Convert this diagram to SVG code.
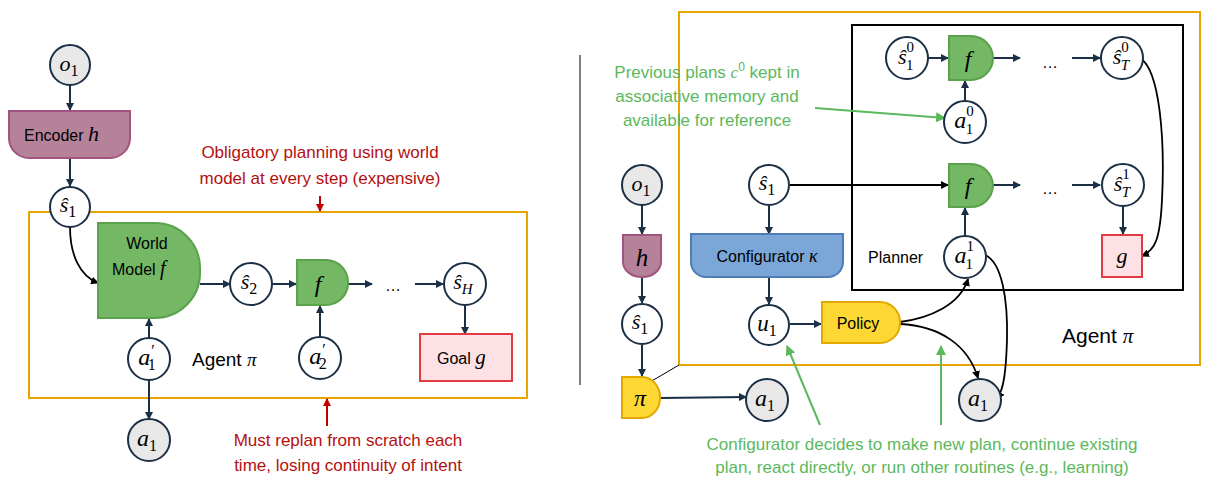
<svg xmlns="http://www.w3.org/2000/svg" width="1213" height="493" viewBox="0 0 1213 493" font-size="16">
<style>
text{font-family:"Liberation Sans",Arial,sans-serif;fill:#000}
.m{font-family:"Liberation Serif","Times New Roman",serif;font-style:italic}
.c{text-anchor:middle}
.n{fill:#fff;stroke:#1b2f45;stroke-width:2}
.g{fill:#e8e8e8;stroke:#1b2f45;stroke-width:2}
.e{fill:none;stroke:#1b2f45;stroke-width:2}
.k{fill:none;stroke:#000;stroke-width:1.8}
.red{fill:#b50f0f}
.grn{fill:#5cb85c}
.wm{fill:#74b866;stroke:#5aa24c;stroke-width:2}
</style>
<defs>
<marker id="a" markerWidth="8" markerHeight="8" refX="7" refY="4" orient="auto" markerUnits="userSpaceOnUse"><path d="M0,0L8,4L0,8z" fill="#1b2f45"/></marker>
<marker id="ak" markerWidth="8" markerHeight="8" refX="7" refY="4" orient="auto" markerUnits="userSpaceOnUse"><path d="M0,0L8,4L0,8z" fill="#000"/></marker>
<marker id="ar" markerWidth="8" markerHeight="8" refX="7" refY="4" orient="auto" markerUnits="userSpaceOnUse"><path d="M0,0L8,4L0,8z" fill="#c00000"/></marker>
<marker id="ag" markerWidth="10" markerHeight="10" refX="9" refY="5" orient="auto" markerUnits="userSpaceOnUse"><path d="M0,0L10,5L0,10z" fill="#5cb85c"/></marker>
</defs>
<rect x="29" y="212" width="498" height="186" fill="none" stroke="#e8a400" stroke-width="2"/>
<line x1="580" y1="55" x2="580" y2="385" stroke="#000" stroke-width="1"/>
<path d="M679,150V12H1200V365H679V131" fill="none" stroke="#e8a400" stroke-width="2"/>
<line x1="679" y1="365" x2="650" y2="382" stroke="#000" stroke-width="1"/>
<rect x="852" y="25" width="331" height="265" fill="none" stroke="#000" stroke-width="2"/>
<g id="connectors">
<line class="e" x1="70" y1="85" x2="70" y2="110" marker-end="url(#a)"/>
<line class="e" x1="70" y1="158" x2="70" y2="186" marker-end="url(#a)"/>
<path class="k" d="M70,227C70,255 80,276 98,283" marker-end="url(#ak)"/>
<line class="e" x1="200" y1="284" x2="230" y2="284" marker-end="url(#a)"/>
<line class="e" x1="272" y1="284" x2="296" y2="284" marker-end="url(#a)"/>
<line class="e" x1="348" y1="284" x2="372" y2="284" marker-end="url(#a)"/>
<line class="e" x1="415" y1="284" x2="443" y2="284" marker-end="url(#a)"/>
<line class="e" x1="465" y1="305" x2="465" y2="334" marker-end="url(#a)"/>
<line class="e" x1="149" y1="338" x2="149" y2="319" marker-end="url(#a)"/>
<line class="e" x1="320" y1="337" x2="320" y2="306" marker-end="url(#a)"/>
<line class="e" x1="149" y1="380" x2="149" y2="419" marker-end="url(#a)"/>
<line x1="320" y1="196" x2="320" y2="211" stroke="#c00000" stroke-width="2" marker-end="url(#ar)"/>
<line x1="327" y1="426" x2="327" y2="399" stroke="#c00000" stroke-width="2" marker-end="url(#ar)"/>
<line class="e" x1="642" y1="205" x2="642" y2="234" marker-end="url(#a)"/>
<line class="e" x1="642" y1="277" x2="642" y2="303" marker-end="url(#a)"/>
<line class="e" x1="642" y1="345" x2="642" y2="376" marker-end="url(#a)"/>
<line class="e" x1="660" y1="398" x2="746" y2="397" marker-end="url(#a)"/>
<line class="k" x1="790" y1="185" x2="948" y2="185" marker-end="url(#ak)"/>
<line class="e" x1="769" y1="206" x2="769" y2="234" marker-end="url(#a)"/>
<line class="e" x1="769" y1="277" x2="769" y2="304" marker-end="url(#a)"/>
<line class="e" x1="790" y1="324" x2="821" y2="324" marker-end="url(#a)"/>
<line class="e" x1="928" y1="58" x2="948" y2="58" marker-end="url(#a)"/>
<line class="e" x1="993" y1="58" x2="1020" y2="58" marker-end="url(#a)"/>
<line class="e" x1="1072" y1="58" x2="1100" y2="58" marker-end="url(#a)"/>
<line class="e" x1="965" y1="101" x2="965" y2="81" marker-end="url(#a)"/>
<line class="e" x1="993" y1="185" x2="1020" y2="185" marker-end="url(#a)"/>
<line class="e" x1="1072" y1="185" x2="1100" y2="185" marker-end="url(#a)"/>
<line class="e" x1="965" y1="236" x2="965" y2="208" marker-end="url(#a)"/>
<line class="e" x1="1123" y1="206" x2="1123" y2="234" marker-end="url(#a)"/>
<path class="k" d="M1140,58C1160,70 1165,140 1162,200C1160,240 1155,250 1142,256" marker-end="url(#ak)"/>
<path class="k" d="M985,255C1002,262 1008,300 1007,340C1006,370 1004,390 997,398" marker-end="url(#ak)"/>
<path class="k" d="M900,322C930,318 960,305 968,279" marker-end="url(#ak)"/>
<path class="k" d="M900,324C940,326 968,345 978,378" marker-end="url(#ak)"/>
<line x1="815" y1="108" x2="945" y2="118" stroke="#5cb85c" stroke-width="2" marker-end="url(#ag)"/>
<line x1="820" y1="425" x2="787" y2="346" stroke="#5cb85c" stroke-width="2" marker-end="url(#ag)"/>
<line x1="941" y1="425" x2="941" y2="346" stroke="#5cb85c" stroke-width="2" marker-end="url(#ag)"/>
</g>
<g id="o1L"><circle class="g" cx="70" cy="65" r="20"/><text class="m c" x="69" y="71" font-size="22">o<tspan font-size="16" font-style="normal" dy="5">1</tspan></text></g>
<g id="encoder"><path d="M9,111H130V138A20,20 0 0 1 110,158H29A20,20 0 0 1 9,138Z" fill="#b5829a" stroke="#a2537f" stroke-width="2"/><text x="24" y="141" font-size="16">Encoder <tspan class="m" font-size="22">h</tspan></text></g>
<g id="s1L"><circle class="n" cx="70" cy="207" r="20"/><text class="m c" x="68" y="212" font-size="22">ŝ<tspan font-size="16" font-style="normal" dy="5">1</tspan></text></g>
<g id="worldmodel"><path d="M98,223H155A45,45 0 0 1 200,268V273A45,45 0 0 1 155,318H98Z" class="wm"/><text class="c" x="147" y="249" font-size="16">World</text><text x="112" y="275" font-size="16">Model <tspan class="m" font-size="20">f</tspan></text></g>
<g id="s2"><circle class="n" cx="251" cy="284" r="21"/><text class="m c" x="249" y="289" font-size="22">ŝ<tspan font-size="16" font-style="normal" dy="5">2</tspan></text></g>
<g id="fL"><path d="M297,260H326A22,22 0 0 1 348,282V283A22,22 0 0 1 326,305H297Z" class="wm"/><text class="m c" x="318" y="292" font-size="24">f</text></g>
<text x="385" y="291" font-size="16">…</text>
<g id="sH"><circle class="n" cx="465" cy="284" r="21"/><text class="m c" x="463" y="289" font-size="22">ŝ<tspan font-size="15" dy="5">H</tspan></text></g>
<g id="goal"><rect x="420" y="334" width="92" height="47" fill="#fde1e4" stroke="#e03c46" stroke-width="2"/><text x="437" y="364" font-size="16">Goal <tspan class="m" font-size="21">g</tspan></text></g>
<g id="a1p"><circle class="n" cx="149" cy="359" r="21"/><text class="m c" x="147" y="365" font-size="24">a<tspan font-size="16" dy="-9">′</tspan><tspan font-size="16" font-style="normal" dx="-6" dy="14">1</tspan></text></g>
<g id="a2p"><circle class="n" cx="320" cy="358" r="21"/><text class="m c" x="318" y="364" font-size="24">a<tspan font-size="16" dy="-9">′</tspan><tspan font-size="16" font-style="normal" dx="-6" dy="14">2</tspan></text></g>
<text x="192" y="366" font-size="19">Agent <tspan class="m">π</tspan></text>
<g id="a1L"><circle class="g" cx="149" cy="440" r="21"/><text class="m c" x="147" y="446" font-size="24">a<tspan font-size="16" font-style="normal" dy="5">1</tspan></text></g>
<text class="red c" x="320" y="158" font-size="17">Obligatory planning using world</text>
<text class="red c" x="320" y="184" font-size="17">model at every step (expensive)</text>
<text class="red c" x="348" y="446" font-size="17">Must replan from scratch each</text>
<text class="red c" x="348" y="471" font-size="17">time, losing continuity of intent</text>
<g id="o1R"><circle class="g" cx="642" cy="185" r="20"/><text class="m c" x="641" y="191" font-size="22">o<tspan font-size="16" font-style="normal" dy="5">1</tspan></text></g>
<g id="hR"><path d="M623,235H661V262A19,15 0 0 1 623,262Z" fill="#b5829a" stroke="#a2537f" stroke-width="2"/><text class="m c" x="642" y="266" font-size="25">h</text></g>
<g id="s1R"><circle class="n" cx="642" cy="324" r="20"/><text class="m c" x="640" y="329" font-size="22">ŝ<tspan font-size="16" font-style="normal" dy="5">1</tspan></text></g>
<g id="pi"><path d="M622,377H642A18,20 0 0 1 660,397V398A18,20 0 0 1 642,418H622Z" fill="#fdd835" stroke="#e3a800" stroke-width="2"/><text class="m c" x="640" y="406" font-size="24">π</text></g>
<g id="a1R1"><circle class="g" cx="767" cy="400" r="21"/><text class="m c" x="765" y="406" font-size="24">a<tspan font-size="16" font-style="normal" dy="5">1</tspan></text></g>
<g id="s1in"><circle class="n" cx="769" cy="185" r="20"/><text class="m c" x="767" y="190" font-size="22">ŝ<tspan font-size="16" font-style="normal" dy="5">1</tspan></text></g>
<g id="configurator"><path d="M691,234H843V262A15,15 0 0 1 828,277H706A15,15 0 0 1 691,262Z" fill="#7aa6d8" stroke="#4f7cb5" stroke-width="2"/><text class="c" x="767" y="262" font-size="16">Configurator <tspan class="m" font-size="18">κ</tspan></text></g>
<g id="u1"><circle class="n" cx="769" cy="325" r="20"/><text class="m c" x="767" y="331" font-size="23">u<tspan font-size="16" font-style="normal" dy="5">1</tspan></text></g>
<g id="policy"><path d="M822,302H880A20,20 0 0 1 900,322V323A20,20 0 0 1 880,343H822Z" fill="#fdd835" stroke="#e3a800" stroke-width="2"/><text class="c" x="858" y="329" font-size="16">Policy</text></g>
<g id="a1R2"><circle class="g" cx="980" cy="400" r="21"/><text class="m c" x="978" y="406" font-size="24">a<tspan font-size="16" font-style="normal" dy="5">1</tspan></text></g>
<g id="s10"><circle class="n" cx="907" cy="58" r="21"/><text class="m c" x="906" y="64" font-size="22">ŝ<tspan font-size="15" font-style="normal" dy="-12">0</tspan><tspan font-size="15" font-style="normal" dx="-8" dy="18">1</tspan></text></g>
<g id="f0"><path d="M949,36H971A22,22 0 0 1 993,58A22,22 0 0 1 971,80H949Z" class="wm"/><text class="m c" x="968" y="67" font-size="24">f</text></g>
<text x="1042" y="68" font-size="16">…</text>
<g id="sT0"><circle class="n" cx="1122" cy="58" r="21"/><text class="m c" x="1121" y="64" font-size="22">ŝ<tspan font-size="15" font-style="normal" dy="-12">0</tspan><tspan font-size="15" dx="-8" dy="18">T</tspan></text></g>
<g id="a10"><circle class="n" cx="965" cy="122" r="21"/><text class="m c" x="964" y="128" font-size="24">a<tspan font-size="15" font-style="normal" dy="-12">0</tspan><tspan font-size="15" font-style="normal" dx="-8" dy="18">1</tspan></text></g>
<g id="f1"><path d="M949,164H971A22,22 0 0 1 993,186A22,22 0 0 1 971,207H949Z" class="wm"/><text class="m c" x="968" y="194" font-size="24">f</text></g>
<text x="1042" y="194" font-size="16">…</text>
<g id="sT1"><circle class="n" cx="1123" cy="185" r="21"/><text class="m c" x="1122" y="191" font-size="22">ŝ<tspan font-size="15" font-style="normal" dy="-12">1</tspan><tspan font-size="15" dx="-8" dy="18">T</tspan></text></g>
<g id="g"><rect x="1102" y="235" width="40" height="42" fill="#fde1e4" stroke="#e03c46" stroke-width="2"/><text class="m c" x="1122" y="263" font-size="22">g</text></g>
<g id="a11"><circle class="n" cx="965" cy="257" r="21"/><text class="m c" x="964" y="263" font-size="24">a<tspan font-size="15" font-style="normal" dy="-12">1</tspan><tspan font-size="15" font-style="normal" dx="-8" dy="18">1</tspan></text></g>
<text x="868" y="263" font-size="16">Planner</text>
<text x="1062" y="343" font-size="21">Agent <tspan class="m">π</tspan></text>
<text class="grn c" x="707" y="78" font-size="17">Previous plans <tspan class="m">c</tspan><tspan font-size="12" dy="-7">0</tspan><tspan dy="7"> kept in</tspan></text>
<text class="grn c" x="707" y="102" font-size="17">associative memory and</text>
<text class="grn c" x="707" y="126" font-size="17">available for reference</text>
<text class="grn c" x="922" y="450" font-size="17">Configurator decides to make new plan, continue existing</text>
<text class="grn c" x="922" y="473" font-size="17">plan, react directly, or run other routines (e.g., learning)</text>
</svg>
